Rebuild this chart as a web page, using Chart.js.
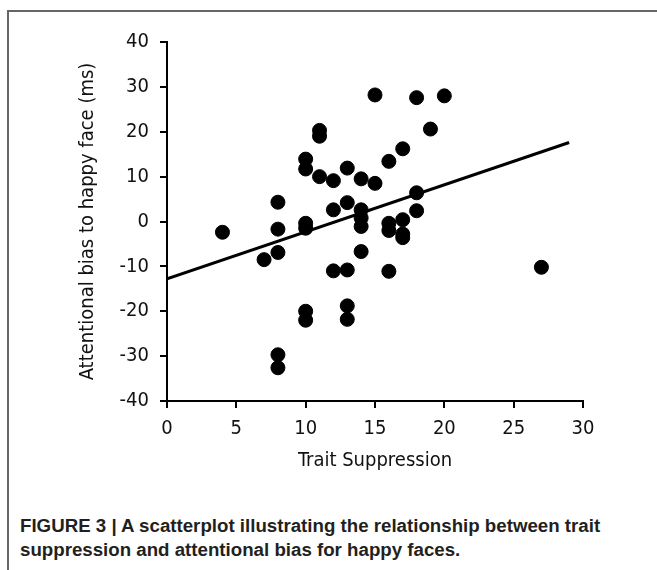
<!DOCTYPE html>
<html lang="en">
  <head>
    <meta charset="utf-8">
    <title>Trait suppression scatterplot</title>
    <style>
      body { margin: 0; background: #fff; }
      #page { position: relative; width: 657px; height: 570px; overflow: hidden; }
      #frame { position: absolute; left: 7px; top: 10px; right: 0; bottom: 0;
               border-top: 2px solid #666; border-left: 2px solid #666; }
      #plot { position: absolute; left: 0; top: 0; }
      #caption { position: absolute; left: 20px; top: 514px; width: 630px;
                 font: bold 18.7px "Liberation Sans", Arial, sans-serif; line-height: 24px; color: #231f20; }
    </style>
  </head>
  <body>
    <div id="page">
      <div id="frame"></div>
      <canvas id="plot" width="657" height="490"></canvas>
      <div id="caption">FIGURE 3 | A scatterplot illustrating the relationship between trait suppression and attentional bias for happy faces.</div>
    </div>

    <script src="https://cdn.jsdelivr.net/npm/chart.js@4.4.1/dist/chart.umd.min.js"></script>
    <script>
      // values
      var trait = [4, 7, 8, 8, 8, 8, 8, 10, 10, 10, 10, 10, 10, 11, 11, 11, 12, 12, 12,
                   13, 13, 13, 13, 13, 14, 14, 14, 14, 14, 15, 15, 16, 16, 16, 16,
                   17, 17, 17, 17, 18, 18, 18, 19, 20, 27];
      var bias = [-2.4, -8.5, 4.3, -1.7, -6.9, -29.7, -32.6, 13.9, 11.7, -0.4, -1.5, -20, -22,
                  20.3, 19, 10, 9.1, 2.6, -11, 11.9, 4.2, -10.8, -18.8, -21.8,
                  9.5, 2.6, 0.8, -1.1, -6.7, 28.2, 8.5, 13.4, -0.4, -2.0, -11.1,
                  16.2, 0.4, -2.8, -3.6, 27.6, 6.4, 2.4, 20.6, 28, -10.2];
      var fitX = [0, 29];
      var fitY = [-12.8, 17.6];
      var xTicks = [0, 5, 10, 15, 20, 25, 30];
      var yTicks = [-40, -30, -20, -10, 0, 10, 20, 30, 40];

      var points = [];
      for (var i = 0; i < trait.length; i++) {
        points.push({x: trait[i], y: bias[i]});
      }
      var fit = [];
      for (var j = 0; j < fitX.length; j++) {
        fit.push({x: fitX[j], y: fitY[j]});
      }

      var narrow = '"Liberation Sans Narrow", "DejaVu Sans Condensed", Arial, sans-serif';

      var ctx = document.getElementById('plot').getContext('2d');
      var chart = new Chart(ctx, {
        type: 'scatter',
        data: {
          datasets: [{
            label: 'Participants',
            data: points,
            backgroundColor: '#000',
            borderColor: '#000',
            pointRadius: 7,
            pointHoverRadius: 7
          }, {
            type: 'line',
            label: 'Fit',
            data: fit,
            borderColor: '#000',
            borderWidth: 3,
            pointRadius: 0,
            fill: false
          }]
        },
        options: {
          animation: false,
          responsive: false,
          plugins: { legend: { display: false }, tooltip: { enabled: false } },
          layout: { padding: { left: 0, right: 74, top: 42, bottom: 0 } },
          scales: {
            x: {
              type: 'linear',
              min: 0, max: 30,
              afterBuildTicks: function(s) { s.ticks = xTicks.map(function(v) { return {value: v}; }); },
              afterFit: function(s) { s.height = 89; },
              grid: { drawOnChartArea: false, color: '#000', lineWidth: 2, tickLength: 7 },
              border: { color: '#000', width: 2 },
              ticks: { color: '#111', padding: 9, maxRotation: 0,
                       font: { family: narrow, size: 20 } },
              title: { display: true, text: 'Trait Suppression', color: '#111',
                       font: { family: narrow, size: 20 }, padding: { top: 0, bottom: 17 } }
            },
            y: {
              type: 'linear',
              min: -40, max: 40,
              afterBuildTicks: function(s) { s.ticks = yTicks.map(function(v) { return {value: v}; }); },
              afterFit: function(s) { s.width = 167; },
              grid: { drawOnChartArea: false, color: '#000', lineWidth: 2, tickLength: 7 },
              border: { color: '#000', width: 2 },
              ticks: { color: '#111', padding: 11,
                       font: { family: narrow, size: 20 } },
              title: { display: true, text: 'Attentional bias to happy face (ms)', color: '#111',
                       font: { family: narrow, size: 20 }, padding: { top: 76, bottom: 0 } }
            }
          }
        }
      });
    </script>
  </body>
</html>
